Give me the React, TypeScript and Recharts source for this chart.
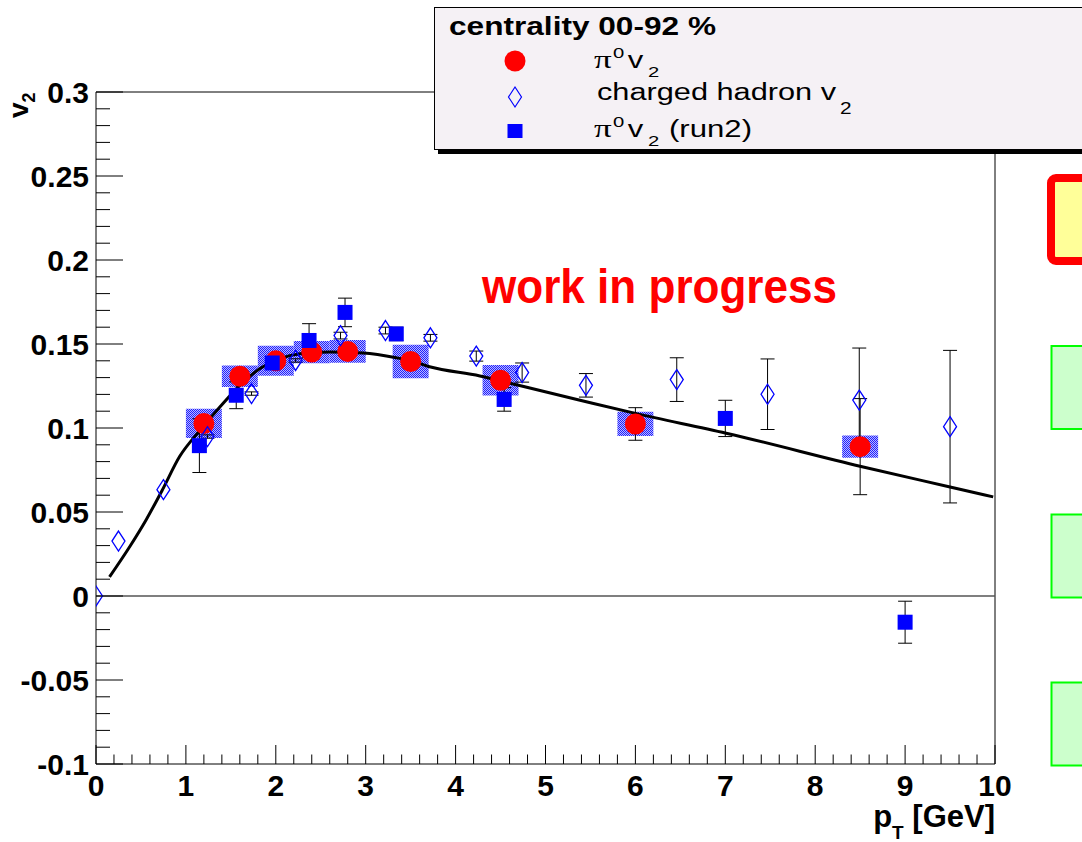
import React from 'react';
import {
  ComposedChart,
  XAxis,
  YAxis,
  Scatter,
  Line,
  ErrorBar,
  ReferenceArea,
  ReferenceLine,
} from 'recharts';

// ---------- axes ----------
const xMajorTicks = [0, 1, 2, 3, 4, 5, 6, 7, 8, 9, 10];
const xMajorLabels = ['0', '1', '2', '3', '4', '5', '6', '7', '8', '9', '10'];
const xMinorDivisions = 5;
const yMajorTicks = [-0.1, -0.05, 0, 0.05, 0.1, 0.15, 0.2, 0.25, 0.3];
const yMajorLabels = ['-0.1', '-0.05', '0', '0.05', '0.1', '0.15', '0.2', '0.25', '0.3'];
const yMinorDivisions = 5;

// ---------- pi0 v2 (red circles) ----------
const pi0Pt = [1.2, 1.6, 2.0, 2.4, 2.8, 3.5, 4.5, 6.0, 8.5];
const pi0V2 = [0.1027, 0.1308, 0.14, 0.1452, 0.1456, 0.1396, 0.1284, 0.1024, 0.0889];
const pi0Err = [0.004, 0.003, 0.003, 0.003, 0.003, 0.003, 0.004, 0.0097, 0.0286];
const pi0Sys = [0.0087, 0.0064, 0.0089, 0.0066, 0.0068, 0.01, 0.0091, 0.0072, 0.0066];
const pi0SysHalfWidth = [0.2, 0.2, 0.2, 0.2, 0.2, 0.2, 0.2, 0.2, 0.2];

// ---------- charged hadron v2 (open diamonds) ----------
const chPt = [0.0, 0.25, 0.75, 1.24, 1.73, 2.22, 2.72, 3.22, 3.72, 4.23, 4.74, 5.45, 6.46, 7.47, 8.49, 9.5];
const chV2 = [0.0, 0.0327, 0.0633, 0.0949, 0.1205, 0.1402, 0.155, 0.158, 0.1537, 0.1428, 0.133, 0.1254, 0.1288, 0.1201, 0.1166, 0.1008];
const chErr = [0, 0, 0, 0.001, 0.001, 0.001, 0.002, 0.002, 0.002, 0.003, 0.0057, 0.007, 0.013, 0.021, 0.031, 0.0454];

// ---------- pi0 v2 run2 (blue squares) ----------
const run2Pt = [1.15, 1.56, 1.96, 2.37, 2.77, 3.34, 4.54, 7.0, 9.0];
const run2V2 = [0.0895, 0.1195, 0.1387, 0.1521, 0.1688, 0.156, 0.117, 0.1057, -0.0156];
const run2Err = [0.016, 0.008, 0.003, 0.01, 0.0085, 0.004, 0.007, 0.0108, 0.0125];

// ---------- fit curve ----------
const fitPt = [0.15, 0.38, 0.56, 0.74, 0.93, 1.16, 1.38, 1.6, 1.82, 2.04, 2.27, 2.6, 2.97, 3.34, 3.5, 3.71, 4.27, 4.7, 5.35, 6.0, 7.01, 8.51, 9.5, 9.98];
const fitV2 = [0.0114, 0.0298, 0.0456, 0.0633, 0.083, 0.0988, 0.1126, 0.1254, 0.1353, 0.1412, 0.1442, 0.1452, 0.1446, 0.1418, 0.14, 0.1365, 0.131, 0.1254, 0.117, 0.1087, 0.0969, 0.0771, 0.0649, 0.059];

// ---------- texts ----------
const legendHeader = 'centrality 00-92 %';
const watermark = 'work in progress';

const FONT = '"Liberation Sans", Arial, Helvetica, sans-serif';
const SERIF = '"Liberation Serif", "DejaVu Serif", serif';

const round6 = (v: number) => Number(v.toFixed(6));
const buildTicks = (majors: number[], div: number) => {
  const out: number[] = [];
  for (let i = 0; i < majors.length; i++) {
    out.push(majors[i]);
    if (i < majors.length - 1) {
      for (let k = 1; k < div; k++) {
        out.push(round6(majors[i] + ((majors[i + 1] - majors[i]) * k) / div));
      }
    }
  }
  return out;
};
const xTicks = buildTicks(xMajorTicks, xMinorDivisions);
const yTicks = buildTicks(yMajorTicks, yMinorDivisions);

const pi0Data = pi0Pt.map((x, i) => ({ x, v: pi0V2[i], e: pi0Err[i] }));
const chData = chPt.map((x, i) => ({ x, v: chV2[i], e: chErr[i] }));
const run2Data = run2Pt.map((x, i) => ({ x, v: run2V2[i], e: run2Err[i] }));
const fitData = fitPt.map((x, i) => ({ x, v: fitV2[i] }));

const majorIndex = (arr: number[], v: number) => arr.findIndex((m) => Math.abs(m - v) < 1e-6);

const XTick = (props: any) => {
  const { x, y, payload } = props;
  const idx = majorIndex(xMajorTicks, payload.value);
  const major = idx >= 0;
  return (
    <g>
      <line x1={x} x2={x} y1={y} y2={y - (major ? 19 : 9.5)} stroke="#000" strokeWidth={1} />
      {major && (
        <text x={x} y={y + 32} textAnchor="middle" fontSize={30} fontWeight="bold" fontFamily={FONT} fill="#000">
          {xMajorLabels[idx]}
        </text>
      )}
    </g>
  );
};

const YTick = (props: any) => {
  const { x, y, payload } = props;
  const idx = majorIndex(yMajorTicks, payload.value);
  const major = idx >= 0;
  return (
    <g>
      <line x1={x} x2={x + (major ? 27 : 14)} y1={y} y2={y} stroke="#000" strokeWidth={1} />
      {major && (
        <text x={x - 7} y={y + 11} textAnchor="end" fontSize={30} fontWeight="bold" fontFamily={FONT} fill="#000">
          {yMajorLabels[idx]}
        </text>
      )}
    </g>
  );
};

const XTitle = (props: any) => {
  const vb = props.viewBox || { x: 96, y: 764, width: 899, height: 1 };
  return (
    <text x={vb.x + vb.width} y={vb.y + 63} textAnchor="end" fontFamily={FONT} fontWeight="bold" fill="#000">
      <tspan fontSize={31}>p</tspan>
      <tspan fontSize={19} dy={12}>T</tspan>
      <tspan fontSize={31} dy={-12}> [GeV]</tspan>
    </text>
  );
};

const YTitle = (props: any) => {
  const vb = props.viewBox || { x: 95, y: 92, width: 1, height: 672 };
  return (
    <text transform={`translate(28, ${vb.y + 26}) rotate(-90)`} textAnchor="start" fontFamily={FONT} fontWeight="bold" fill="#000">
      <tspan fontSize={28}>v</tspan>
      <tspan fontSize={18} dy={7}>2</tspan>
    </text>
  );
};

const CircleShape = (props: any) => {
  const { cx, cy } = props;
  return <circle cx={cx} cy={cy} r={10.5} fill="#ff0000" />;
};
const SquareShape = (props: any) => {
  const { cx, cy } = props;
  return <rect x={cx - 7.5} y={cy - 7.5} width={15} height={15} fill="#0000ff" />;
};
const DiamondShape = (props: any) => {
  const { cx, cy } = props;
  return (
    <polygon
      points={`${cx},${cy - 10} ${cx + 6.5},${cy} ${cx},${cy + 10} ${cx - 6.5},${cy}`}
      fill="none"
      stroke="#0000ff"
      strokeWidth={1.3}
    />
  );
};

const PiV2 = ({ x, y }: { x: number; y: number }) => (
  <g transform={`translate(${x}, ${y}) scale(1.35, 1)`}>
    <text fill="#000" fontFamily={FONT}>
      <tspan x={0} y={0} fontSize={26} fontFamily={SERIF}>π</tspan>
      <tspan x={14} y={-10} fontSize={15}>0</tspan>
      <tspan x={25} y={0} fontSize={23}>v</tspan>
      <tspan x={40} y={9} fontSize={15}>2</tspan>
    </text>
  </g>
);

export default function App() {
  return (
    <div style={{ position: 'absolute', left: 0, top: 0, width: 1082, height: 842, background: '#fff' }}>
      <svg width={0} height={0} style={{ position: 'absolute' }}>
        <defs>
          <pattern id="checker" patternUnits="userSpaceOnUse" width={2} height={2}>
            <rect x={0} y={0} width={1} height={1} fill="#2020ff" />
            <rect x={1} y={1} width={1} height={1} fill="#2020ff" />
            <rect x={1} y={0} width={1} height={1} fill="#b8b8ff" />
            <rect x={0} y={1} width={1} height={1} fill="#b8b8ff" />
          </pattern>
        </defs>
      </svg>
      <ComposedChart width={1082} height={842} margin={{ top: 92, right: 87, bottom: 77, left: 95 }}>
        <XAxis
          type="number"
          dataKey="x"
          domain={[0, 10]}
          ticks={xTicks}
          interval={0}
          height={1}
          tickSize={0}
          tickMargin={0}
          tickLine={false}
          axisLine={{ stroke: '#000', strokeWidth: 1 }}
          tick={XTick}
          allowDataOverflow
          label={XTitle}
        />
        <YAxis
          type="number"
          dataKey="v"
          domain={[-0.1, 0.3]}
          ticks={yTicks}
          interval={0}
          width={1}
          tickSize={0}
          tickMargin={0}
          tickLine={false}
          axisLine={{ stroke: '#000', strokeWidth: 1 }}
          tick={YTick}
          allowDataOverflow
          label={YTitle}
        />
        <ReferenceLine y={0.3} stroke="#000" strokeWidth={1} />
        <ReferenceLine x={10} stroke="#000" strokeWidth={1} />
        <ReferenceLine y={0} stroke="#555" strokeWidth={1.5} />
        {pi0Pt.map((p, i) => (
          <ReferenceArea
            key={'sys' + i}
            x1={p - pi0SysHalfWidth[i]}
            x2={p + pi0SysHalfWidth[i]}
            y1={pi0V2[i] - pi0Sys[i]}
            y2={pi0V2[i] + pi0Sys[i]}
            fill="url(#checker)"
            fillOpacity={1}
            stroke="none"
            ifOverflow="visible"
          />
        ))}
        <Scatter data={pi0Data} shape={CircleShape} isAnimationActive={false}>
          <ErrorBar dataKey="e" direction="y" width={7} stroke="#000" strokeWidth={1} />
        </Scatter>
        <Scatter data={chData} shape={DiamondShape} isAnimationActive={false}>
          <ErrorBar dataKey="e" direction="y" width={7} stroke="#000" strokeWidth={1} />
        </Scatter>
        <Scatter data={run2Data} shape={SquareShape} isAnimationActive={false}>
          <ErrorBar dataKey="e" direction="y" width={7} stroke="#000" strokeWidth={1} />
        </Scatter>
        <Line
          data={fitData}
          dataKey="v"
          type="monotone"
          stroke="#000"
          strokeWidth={3}
          dot={false}
          activeDot={false}
          isAnimationActive={false}
        />
      </ComposedChart>
      <svg
        width={1082}
        height={842}
        style={{ position: 'absolute', left: 0, top: 0, pointerEvents: 'none' }}
      >
        <text x={482} y={303} fontSize={48} fontWeight="bold" fill="#ff0000" fontFamily={FONT} textLength={355} lengthAdjust="spacingAndGlyphs">
          {watermark}
        </text>
        {/* legend */}
        <rect x={438} y={149} width={700} height={5} fill="#000" />
        <rect x={434.5} y={7.5} width={700} height={142} fill="#f5f1f5" stroke="#000" strokeWidth={1} />
        <text x={449} y={35} fontSize={25} fontWeight="bold" fontFamily={FONT} fill="#000" textLength={267} lengthAdjust="spacingAndGlyphs">
          {legendHeader}
        </text>
        <circle cx={515} cy={61} r={10.5} fill="#ff0000" />
        <polygon points="515,87 521.5,97 515,107 508.5,97" fill="none" stroke="#0000ff" strokeWidth={1.2} />
        <rect x={507.5} y={124} width={15} height={14} fill="#0000ff" />
        {/* entry 1 */}
        <PiV2 x={594} y={68} />
        {/* entry 2 */}
        <text x={597} y={100} fontSize={23} fontFamily={FONT} fill="#000" textLength={239} lengthAdjust="spacingAndGlyphs">
          charged hadron v
        </text>
        <text x={840} y={114} fontSize={16} fontFamily={FONT} fill="#000" transform="translate(840,114) scale(1.3,1) translate(-840,-114)">2</text>
        {/* entry 3 */}
        <PiV2 x={594} y={137} />
        <text x={669} y={137} fontSize={23} fontFamily={FONT} fill="#000" textLength={83} lengthAdjust="spacingAndGlyphs">
          (run2)
        </text>
        {/* partial boxes at right edge */}
        <rect x={1051} y={178} width={60} height={83} rx={5} fill="#ffff99" stroke="#ff0000" strokeWidth={8} />
        <rect x={1051.5} y={346} width={60} height={83} fill="#ccffcc" stroke="#00ff00" strokeWidth={2} />
        <rect x={1051.5} y={514.5} width={60} height={83} fill="#ccffcc" stroke="#00ff00" strokeWidth={2} />
        <rect x={1051.5} y={682.5} width={60} height={83} fill="#ccffcc" stroke="#00ff00" strokeWidth={2} />
      </svg>
    </div>
  );
}
